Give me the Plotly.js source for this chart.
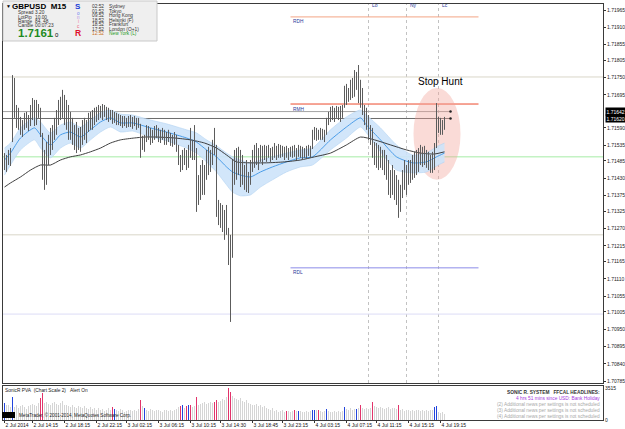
<!DOCTYPE html>
<html><head><meta charset="utf-8">
<script src="https://cdn.plot.ly/plotly-3.0.1.min.js"></script>
<style>html,body{margin:0;padding:0;background:#fff}#chart{width:625px;height:429px}</style>
</head><body><div id="chart"></div>
<script>
// ---------- DATA (GBPUSD M15) ----------
const opens = [1.71488,1.71479,1.71495,1.71485,1.71552,1.71704,1.71641,1.71615,1.71596,1.71584,
1.71603,1.71622,1.71599,1.71615,1.71647,1.71663,1.71615,1.71654,1.71641,1.71568,
1.71437,1.71463,1.71520,1.71552,1.71536,1.71584,1.71599,1.71631,1.71663,1.71641,
1.71679,1.71622,1.71654,1.71584,1.71615,1.71552,1.71584,1.71536,1.71568,1.71552,
1.71599,1.71568,1.71599,1.71622,1.71599,1.71631,1.71622,1.71641,1.71647,1.71631,
1.71654,1.71641,1.71634,1.71628,1.71631,1.71609,1.71634,1.71615,1.71609,1.71625,
1.71606,1.71615,1.71599,1.71622,1.71603,1.71615,1.71606,1.71599,1.71596,1.71545,
1.71526,1.71561,1.71584,1.71568,1.71552,1.71574,1.71584,1.71571,1.71558,1.71577,
1.71561,1.71545,1.71568,1.71558,1.71542,1.71552,1.71561,1.71526,1.71488,1.71463,
1.71514,1.71495,1.71469,1.71520,1.71501,1.71526,1.71520,1.71377,1.71409,1.71456,
1.71393,1.71456,1.71488,1.71472,1.71504,1.71552,1.71520,1.71329,1.71313,1.71297,
1.71272,1.71313,1.71259,1.71177,1.71202,1.71456,1.71440,1.71504,1.71456,1.71488,
1.71431,1.71456,1.71409,1.71431,1.71472,1.71495,1.71520,1.71488,1.71514,1.71495,
1.71520,1.71504,1.71520,1.71507,1.71498,1.71520,1.71510,1.71526,1.71504,1.71520,
1.71514,1.71523,1.71501,1.71517,1.71507,1.71526,1.71504,1.71501,1.71530,1.71507,
1.71514,1.71504,1.71520,1.71510,1.71526,1.71574,1.71584,1.71577,1.71558,1.71577,
1.71561,1.71571,1.71615,1.71625,1.71641,1.71631,1.71647,1.71634,1.71647,1.71628,
1.71657,1.71717,1.71695,1.71711,1.71727,1.71704,1.71720,1.71765,1.71736,1.71704,
1.71647,1.71631,1.71599,1.71577,1.71577,1.71501,1.71520,1.71488,1.71520,1.71479,
1.71504,1.71463,1.71440,1.71393,1.71425,1.71409,1.71393,1.71415,1.71339,1.71393,
1.71440,1.71409,1.71456,1.71431,1.71463,1.71440,1.71488,1.71463,1.71504,1.71488,
1.71514,1.71482,1.71495,1.71472,1.71488,1.71463,1.71536,1.71599,1.71615,1.71584,
1.71599];
const highs = [1.71510,1.71504,1.71520,1.71526,1.71758,1.71749,1.71663,1.71654,1.71625,1.71615,
1.71638,1.71641,1.71631,1.71663,1.71685,1.71679,1.71679,1.71666,1.71654,1.71574,
1.71520,1.71545,1.71568,1.71590,1.71599,1.71622,1.71647,1.71679,1.71689,1.71711,
1.71695,1.71679,1.71663,1.71641,1.71622,1.71599,1.71609,1.71590,1.71593,1.71615,
1.71622,1.71615,1.71638,1.71641,1.71647,1.71654,1.71657,1.71663,1.71660,1.71666,
1.71663,1.71657,1.71654,1.71647,1.71647,1.71641,1.71638,1.71634,1.71631,1.71628,
1.71628,1.71622,1.71628,1.71631,1.71625,1.71628,1.71622,1.71622,1.71603,1.71565,
1.71568,1.71599,1.71596,1.71590,1.71584,1.71596,1.71599,1.71590,1.71584,1.71590,
1.71584,1.71577,1.71584,1.71574,1.71568,1.71577,1.71568,1.71536,1.71504,1.71520,
1.71526,1.71520,1.71536,1.71590,1.71552,1.71599,1.71526,1.71440,1.71472,1.71488,
1.71472,1.71520,1.71530,1.71520,1.71552,1.71590,1.71536,1.71361,1.71351,1.71345,
1.71329,1.71345,1.71272,1.71250,1.71488,1.71520,1.71526,1.71530,1.71520,1.71504,
1.71472,1.71488,1.71450,1.71488,1.71520,1.71536,1.71542,1.71526,1.71536,1.71533,
1.71536,1.71533,1.71536,1.71526,1.71530,1.71542,1.71533,1.71539,1.71536,1.71533,
1.71530,1.71533,1.71526,1.71530,1.71533,1.71536,1.71526,1.71536,1.71533,1.71530,
1.71526,1.71533,1.71536,1.71533,1.71584,1.71593,1.71590,1.71584,1.71590,1.71587,
1.71584,1.71622,1.71641,1.71657,1.71660,1.71654,1.71660,1.71657,1.71660,1.71663,
1.71724,1.71730,1.71717,1.71743,1.71749,1.71774,1.71768,1.71790,1.71743,1.71717,
1.71663,1.71654,1.71631,1.71599,1.71590,1.71545,1.71542,1.71536,1.71530,1.71520,
1.71520,1.71504,1.71488,1.71456,1.71472,1.71456,1.71440,1.71425,1.71409,1.71456,
1.71488,1.71472,1.71488,1.71488,1.71504,1.71514,1.71520,1.71526,1.71536,1.71530,
1.71533,1.71520,1.71514,1.71504,1.71514,1.71542,1.71669,1.71625,1.71622,1.71615,
1.71625];
const lows = [1.71456,1.71450,1.71472,1.71469,1.71545,1.71622,1.71590,1.71584,1.71568,1.71561,
1.71584,1.71590,1.71580,1.71596,1.71615,1.71596,1.71599,1.71622,1.71561,1.71425,
1.71393,1.71409,1.71472,1.71504,1.71520,1.71552,1.71568,1.71599,1.71615,1.71622,
1.71599,1.71584,1.71552,1.71552,1.71536,1.71520,1.71510,1.71520,1.71514,1.71536,
1.71552,1.71542,1.71577,1.71584,1.71584,1.71599,1.71609,1.71615,1.71622,1.71615,
1.71625,1.71615,1.71609,1.71615,1.71603,1.71606,1.71599,1.71599,1.71596,1.71590,
1.71596,1.71590,1.71593,1.71593,1.71587,1.71596,1.71584,1.71590,1.71495,1.71520,
1.71514,1.71545,1.71552,1.71536,1.71542,1.71552,1.71558,1.71545,1.71542,1.71552,
1.71536,1.71536,1.71545,1.71533,1.71530,1.71536,1.71514,1.71472,1.71450,1.71456,
1.71472,1.71456,1.71463,1.71495,1.71488,1.71488,1.71323,1.71345,1.71361,1.71377,
1.71377,1.71425,1.71440,1.71450,1.71472,1.71504,1.71307,1.71281,1.71272,1.71259,
1.71234,1.71250,1.71154,1.70973,1.71177,1.71409,1.71425,1.71440,1.71402,1.71409,
1.71393,1.71386,1.71383,1.71409,1.71450,1.71463,1.71472,1.71456,1.71482,1.71472,
1.71488,1.71482,1.71495,1.71482,1.71488,1.71495,1.71488,1.71495,1.71495,1.71498,
1.71488,1.71495,1.71488,1.71498,1.71495,1.71498,1.71488,1.71498,1.71495,1.71488,
1.71495,1.71491,1.71501,1.71495,1.71523,1.71552,1.71549,1.71552,1.71552,1.71552,
1.71545,1.71568,1.71599,1.71609,1.71615,1.71609,1.71622,1.71615,1.71609,1.71622,
1.71654,1.71663,1.71673,1.71679,1.71685,1.71689,1.71711,1.71669,1.71654,1.71631,
1.71599,1.71584,1.71552,1.71536,1.71495,1.71472,1.71463,1.71456,1.71463,1.71456,
1.71440,1.71425,1.71377,1.71367,1.71377,1.71361,1.71345,1.71304,1.71323,1.71367,
1.71393,1.71377,1.71409,1.71415,1.71425,1.71431,1.71440,1.71450,1.71472,1.71466,
1.71472,1.71463,1.71456,1.71447,1.71447,1.71456,1.71526,1.71574,1.71568,1.71568,
1.71584];
const closes = [1.71479,1.71495,1.71485,1.71536,1.71704,1.71641,1.71615,1.71596,1.71584,1.71603,
1.71622,1.71599,1.71615,1.71647,1.71663,1.71615,1.71654,1.71641,1.71568,1.71437,
1.71463,1.71520,1.71552,1.71536,1.71584,1.71599,1.71631,1.71663,1.71641,1.71679,
1.71622,1.71654,1.71584,1.71615,1.71552,1.71584,1.71536,1.71568,1.71552,1.71599,
1.71568,1.71599,1.71622,1.71599,1.71631,1.71622,1.71641,1.71647,1.71631,1.71654,
1.71641,1.71634,1.71628,1.71622,1.71609,1.71634,1.71615,1.71609,1.71625,1.71606,
1.71615,1.71599,1.71622,1.71603,1.71615,1.71606,1.71599,1.71596,1.71545,1.71533,
1.71561,1.71584,1.71568,1.71552,1.71574,1.71584,1.71571,1.71558,1.71577,1.71561,
1.71545,1.71568,1.71558,1.71542,1.71552,1.71561,1.71526,1.71488,1.71463,1.71514,
1.71488,1.71469,1.71520,1.71501,1.71526,1.71520,1.71377,1.71409,1.71456,1.71393,
1.71456,1.71488,1.71472,1.71504,1.71520,1.71520,1.71329,1.71313,1.71297,1.71272,
1.71313,1.71259,1.71177,1.71202,1.71456,1.71440,1.71504,1.71456,1.71488,1.71431,
1.71456,1.71409,1.71431,1.71472,1.71495,1.71520,1.71488,1.71514,1.71495,1.71520,
1.71504,1.71520,1.71507,1.71498,1.71520,1.71510,1.71526,1.71504,1.71520,1.71514,
1.71504,1.71501,1.71517,1.71507,1.71523,1.71504,1.71501,1.71530,1.71507,1.71514,
1.71504,1.71520,1.71510,1.71526,1.71574,1.71584,1.71568,1.71558,1.71577,1.71561,
1.71571,1.71615,1.71625,1.71641,1.71631,1.71647,1.71634,1.71647,1.71628,1.71657,
1.71717,1.71695,1.71711,1.71727,1.71704,1.71749,1.71765,1.71736,1.71704,1.71647,
1.71631,1.71599,1.71577,1.71568,1.71501,1.71520,1.71488,1.71520,1.71479,1.71504,
1.71463,1.71440,1.71393,1.71425,1.71409,1.71393,1.71418,1.71339,1.71393,1.71440,
1.71409,1.71456,1.71431,1.71463,1.71440,1.71488,1.71463,1.71504,1.71488,1.71514,
1.71482,1.71495,1.71472,1.71488,1.71463,1.71536,1.71599,1.71615,1.71584,1.71599,
1.71619];
// PVA bar class per bar: n = normal, r = red climax, b = blue climax
const barClass = "bnnnbnnnnn"+"nnnnnnnnrr"+"nnnnnnnnnn"+"nnnnnnnnnn"+"nnnnnnnnnn"+
"nnnnrbnnnn"+"nnnnnnnnrn"+"bnnnnnnnnn"+"nnnnnnnnrb"+"nrbrnnrnnn"+
"nnnnnrrnnn"+"nnrrnnnnnn"+"nnnnnnnnnn"+"nnnnnnnnnn"+"nrnnnrnbnn"+
"nnnnbbnrnn"+"nbnnnnnnnn"+"bnnnnnbnrn"+"nnnnrnnnnn"+"nnnnnnnrnn"+
"nnnnnnnnnn"+"nnnnnbbnnn"+"n";
const volumes = [1870,1700,1600,1400,2530,1400,1600,1300,1500,1700,
1400,1200,1500,1600,1800,1700,1500,1900,2400,2970,
1900,2000,1800,1700,1900,2000,1800,1700,1900,2100,
1700,1600,1500,1400,1600,1450,1300,1500,1400,1350,
1550,1300,1250,1400,1200,1350,1150,1300,1100,1250,
1000,1150,1300,1100,1400,1200,1100,1000,1200,1100,
900,1000,1150,1050,950,1100,1000,1200,2200,1500,
1300,1100,1000,1200,1100,950,1050,1100,1000,900,
1050,1150,1000,1100,950,1050,1200,1400,1500,1600,
1300,1500,1650,1650,1400,1500,2530,1700,1800,1900,
2000,1800,1900,2000,1900,1950,2200,2000,2100,2300,
2200,2500,3515,3100,2600,2400,2300,2200,2400,2100,
2000,2200,1900,1800,1700,1600,1800,1500,1600,1400,
1500,1300,1200,1100,1300,1000,1150,900,1000,1100,
850,1000,1000,900,950,1100,1000,1000,950,900,
850,1000,900,1000,1100,1100,1050,1100,1000,900,
1000,1200,950,900,850,1000,900,950,850,1000,
1430,1200,1100,1300,1150,1250,1250,1300,1650,1300,
1200,1350,1250,1300,1980,1500,1400,1300,1450,1350,
1200,1300,1400,1250,1350,1300,1200,1650,1100,1200,
1000,1100,1050,950,1100,1000,1150,1050,1000,1100,
950,1050,1000,1100,1050,1430,1500,900,800,850,
700];
// Dragon band (EMA of high / close / low) read at sample bars
const dragonBars = [0,3,8,15,18,23,28,33,38,43,48,53,58,64,73,81,91,96,101,106,111,114,118,123,128,134,141,148,154,163,171,178,181,188,196,204,211,216,220];
const dragonMid  = [1.71488,1.71510,1.71558,1.71590,1.71568,1.71536,1.71568,1.71577,1.71561,1.71584,1.71609,1.71622,1.71606,1.71606,1.71590,1.71577,1.71558,1.71545,1.71520,1.71498,1.71466,1.71450,1.71440,1.71434,1.71450,1.71466,1.71482,1.71495,1.71498,1.71552,1.71593,1.71622,1.71599,1.71552,1.71498,1.71479,1.71482,1.71498,1.71510];
const dragonHigh = [1.71526,1.71542,1.71590,1.71622,1.71609,1.71574,1.71599,1.71609,1.71593,1.71615,1.71638,1.71647,1.71634,1.71631,1.71615,1.71603,1.71584,1.71574,1.71552,1.71533,1.71510,1.71498,1.71488,1.71479,1.71488,1.71498,1.71510,1.71520,1.71526,1.71584,1.71625,1.71647,1.71631,1.71590,1.71536,1.71504,1.71510,1.71530,1.71542];
const dragonLow  = [1.71440,1.71472,1.71520,1.71552,1.71526,1.71495,1.71526,1.71542,1.71526,1.71552,1.71577,1.71593,1.71577,1.71580,1.71561,1.71549,1.71526,1.71510,1.71482,1.71450,1.71409,1.71386,1.71374,1.71377,1.71402,1.71425,1.71450,1.71466,1.71472,1.71520,1.71558,1.71593,1.71574,1.71514,1.71456,1.71447,1.71450,1.71469,1.71482];
// Trend line (slow EMA) read at sample bars
const trendBars = [0,3,8,13,18,23,28,33,38,43,48,53,58,65,70,76,85,93,100,106,111,116,123,131,140,148,155,163,171,178,185,193,201,208,215,220];
const trendVals = [1.71402,1.71415,1.71434,1.71456,1.71472,1.71472,1.71488,1.71498,1.71504,1.71514,1.71526,1.71542,1.71552,1.71558,1.71561,1.71561,1.71558,1.71552,1.71542,1.71526,1.71504,1.71482,1.71479,1.71479,1.71482,1.71488,1.71498,1.71510,1.71536,1.71561,1.71552,1.71536,1.71520,1.71510,1.71507,1.71514];
// time axis labels
const timeTickBars = [0,14,30,46,61,77,93,108,124,139,155,171,186,202,218];
const timeTickText = ["2 Jul 2014","2 Jul 14:15","2 Jul 18:15","2 Jul 22:15","3 Jul 02:15","3 Jul 06:15","3 Jul 10:15","3 Jul 14:30","3 Jul 18:45","3 Jul 23:15","4 Jul 03:15","4 Jul 07:15","4 Jul 11:15","4 Jul 15:15","4 Jul 19:15"];
// price axis labels
const priceTicks = [1.71965,1.71910,1.71855,1.71805,1.71750,1.71695,1.71590,1.71535,1.71485,1.71430,1.71375,1.71325,1.71270,1.71215,1.71165,1.71110,1.71055,1.71005,1.70950,1.70895,1.70840,1.70785];
// horizontal levels
const fullLevels = [1.71752,1.71498,1.71250,1.70998];
const fullLevelColors = ["#d9d6c8","#a6eca6","#d9d6c8","#dcdcf6"];
const rangeLevelNames = ["RDH","RMH","RDL"];
const rangeLevelVals = [1.71943,1.71666,1.71145];
const rangeLevelColors = ["#f3a585","#ec4a2c","#8c8ce8"];
const bidAskVals = [1.71642,1.71620];
const sessionNames = ["Lo","Ny","Lc"];
const sessionBars = [182,201,217];
const volMax = 3515;

// ---------- helpers ----------
const W = 625, H = 429;
const px = x => x / W, py = y => 1 - y / H;
const N = closes.length;
const idx = Array.from({length:N}, (_, i) => i);

const wickX = [], wickY = [];
for (let i = 0; i < N; i++) { wickX.push(i, i, null); wickY.push(lows[i], highs[i], null); }
const bodyBase = [], bodyLen = [], bodyCol = [], volCol = [];
for (let i = 0; i < N; i++) {
  const lo = Math.min(opens[i], closes[i]);
  const len = Math.max(Math.abs(closes[i] - opens[i]), 0.00002);
  bodyBase.push(lo); bodyLen.push(len);
  const k = barClass[i];
  if (k === 'r') { bodyCol.push('#e0164e'); volCol.push('#e2336a'); }
  else if (k === 'b') { bodyCol.push('#1a3cd6'); volCol.push('#2244dd'); }
  else { bodyCol.push(closes[i] >= opens[i] ? '#c6c6c6' : '#8a8a8a'); volCol.push('#d5d5d5'); }
}

const traces = [
  {type:'scatter', mode:'lines', x:dragonBars, y:dragonHigh, line:{color:'#b4d4f2', width:0.6, shape:'spline', smoothing:0.6}, xaxis:'x', yaxis:'y', hoverinfo:'skip'},
  {type:'scatter', mode:'lines', x:dragonBars, y:dragonLow, line:{color:'#b4d4f2', width:0.6, shape:'spline', smoothing:0.6}, fill:'tonexty', fillcolor:'rgba(205,227,250,0.9)', xaxis:'x', yaxis:'y', hoverinfo:'skip'},
  {type:'scatter', mode:'lines', x:dragonBars, y:dragonMid, line:{color:'#3d95e6', width:0.9, shape:'spline', smoothing:0.6}, xaxis:'x', yaxis:'y', hoverinfo:'skip'},
  {type:'scatter', mode:'lines', x:trendBars, y:trendVals, line:{color:'#2a2a2a', width:0.9, shape:'spline', smoothing:0.6}, xaxis:'x', yaxis:'y', hoverinfo:'skip'},
  {type:'scatter', mode:'lines', x:wickX, y:wickY, line:{color:'#5c5c5c', width:1}, xaxis:'x', yaxis:'y', hoverinfo:'skip', connectgaps:false},
  {type:'bar', x:idx, base:bodyBase, y:bodyLen, width:0.5, marker:{color:bodyCol, line:{width:0}}, xaxis:'x', yaxis:'y', hoverinfo:'skip'},
  {type:'scatter', mode:'markers', x:[223,223], y:bidAskVals, marker:{color:'#222', size:2.5}, xaxis:'x', yaxis:'y', hoverinfo:'skip'},
  {type:'bar', x:idx, y:volumes, width:0.65, marker:{color:volCol, line:{width:0}}, xaxis:'x2', yaxis:'y2', hoverinfo:'skip'}
];

const shapes = [];
// info panel background
shapes.push({type:'rect', xref:'paper', yref:'paper', x0:px(3), x1:px(157), y0:py(41), y1:py(1), fillcolor:'#efefef', line:{color:'#c9c9c9', width:1}, layer:'above'});
// full-width levels
fullLevels.forEach((v, i) => shapes.push({type:'line', xref:'x', yref:'y', x0:-0.75, x1:299.25, y0:v, y1:v, line:{color:fullLevelColors[i], width:1}, layer:'below'}));
// bid / ask lines
shapes.push({type:'line', xref:'x', yref:'y', x0:-0.75, x1:223, y0:bidAskVals[0], y1:bidAskVals[0], line:{color:'#a4a4a4', width:1}, layer:'below'});
shapes.push({type:'line', xref:'x', yref:'y', x0:-0.75, x1:223, y0:bidAskVals[1], y1:bidAskVals[1], line:{color:'#6c6c6c', width:1}, layer:'below'});
// session lines
sessionBars.forEach(b => shapes.push({type:'line', xref:'x', yref:'paper', x0:b, x1:b, y0:py(383), y1:py(4), line:{color:'#c2c2c2', width:1, dash:'dot'}, layer:'below'}));
// range levels
rangeLevelVals.forEach((v, i) => shapes.push({type:'line', xref:'x', yref:'y', x0:143, x1:237, y0:v, y1:v, line:{color:rangeLevelColors[i], width:1}, layer:'below'}));
// stop hunt ellipse
shapes.push({type:'circle', xref:'x', yref:'y', x0:204.5, x1:228, y0:1.71425, y1:1.71717, fillcolor:'rgba(242,160,150,0.38)', line:{width:0}, layer:'below'});
// copyright black box
shapes.push({type:'rect', xref:'paper', yref:'paper', x0:px(2), x1:px(15), y0:py(418), y1:py(412), fillcolor:'#000', line:{width:0}, layer:'above'});

const F = 'Liberation Sans, Arial, sans-serif';
const ann = [];
function t(x, y, text, size, color, opt) {
  ann.push(Object.assign({xref:'paper', yref:'paper', x:px(x), y:py(y), text:text, showarrow:false, xanchor:'left', yanchor:'middle', font:{family:F, size:size, color:color}}, opt || {}));
}
// info panel
t(4, 6.5, '\u25BC', 5, '#000');
t(10, 6.5, '<b>GBPUSD&nbsp;&nbsp;M15</b>', 8, '#000');
const infoLab = ['Spread','LotPip','Range','Candle'];
const infoVal = ['3.20','10.00','84, 48','00:07:23'];
infoLab.forEach((s, i) => { t(16, 13 + 4.2*i, s, 4.8, '#333'); t(33, 13 + 4.2*i, infoVal[i], 4.8, '#333'); });
t(16, 33.5, '<b>1.7161</b>', 11.5, '#1e8a1e');
t(53, 35, '0', 6, '#000');
t(78, 6.5, '<b>S</b>', 8, '#1a3cd6', {xanchor:'center'});
const sonicL = ['o','n','i','c'], sonicC = ['#6b7cf0','#b48fe6','#f07ca0','#ec5c84'];
sonicL.forEach((s, i) => t(78, 13.5 + 4.2*i, s, 4.6, sonicC[i], {xanchor:'center'}));
t(78, 33.5, '<b>R</b>', 8.5, '#e0102c', {xanchor:'center'});
const clockT = ['02:52','01:52','09:52','18:52','18:52','17:52','12:52'];
const clockC = ['Sydney','Tokyo','Hong Kong','Helsinki (F)','Frankfurt','London (O+1)','New York (L)'];
clockT.forEach((s, i) => {
  const last = i === clockT.length - 1;
  t(90, 6.5 + 4.55*i, s, 4.8, last ? '#c8701e' : '#333');
  t(107, 6.5 + 4.55*i, clockC[i], 4.8, last ? '#1e9a1e' : '#333');
});
// level labels
rangeLevelNames.forEach((s, i) => ann.push({xref:'x', yref:'y', x:143, y:rangeLevelVals[i], text:s, showarrow:false, xanchor:'left', yanchor:'top', yshift:-0.5, font:{family:F, size:4.8, color:'#2a3a9a'}}));
sessionNames.forEach((s, i) => ann.push({xref:'x', yref:'paper', x:sessionBars[i], y:py(5.5), text:s, showarrow:false, xanchor:'left', yanchor:'middle', xshift:1, font:{family:F, size:5, color:'#2a3a9a'}}));
// stop hunt
ann.push({xref:'paper', yref:'paper', x:px(416), y:py(82), text:'Stop Hunt', showarrow:false, xanchor:'left', yanchor:'middle', font:{family:F, size:10, color:'#000'}});
// bid/ask price boxes
bidAskVals.forEach(v => ann.push({xref:'paper', yref:'y', x:px(605), y:v, text:v.toFixed(5), showarrow:false, xanchor:'left', yanchor:'middle', bgcolor:'#000', borderpad:0.5, font:{family:F, size:5, color:'#fff'}}));
// volume window texts
t(3, 390, 'SonicR PVA&nbsp;&nbsp;(Chart Scale 2)&nbsp;&nbsp;&nbsp;Alert On', 4.8, '#222');
t(17, 415, 'MetaTrader, \u00A9 2001-2014, MetaQuotes Software Corp.', 4.6, '#222');
const news = [['<b>SONIC R. SYSTEM&nbsp;&nbsp;&nbsp;FFCAL HEADLINES:</b>','#333'],['4 hrs 51 mins since USD: Bank Holiday','#a43ae0'],['(2) Additional news per settings is not scheduled','#a8a8a8'],['(3) Additional news per settings is not scheduled','#a8a8a8'],['(4) Additional news per settings is not scheduled','#a8a8a8']];
news.forEach((n, i) => t(602, 392.5 + 6*i, n[0], 4.8, n[1], {xanchor:'right'}));

const layout = {
  width:W, height:H, margin:{l:0, r:0, t:0, b:0}, paper_bgcolor:'#fff', plot_bgcolor:'#fff',
  showlegend:false, barmode:'overlay', bargap:0, hovermode:false,
  xaxis:{domain:[px(3), px(603)], range:[-0.75, 299.25], anchor:'y', showticklabels:false, ticks:'', showgrid:false, zeroline:false, showline:true, mirror:true, linecolor:'#3a3a3a', linewidth:1},
  yaxis:{domain:[py(383), py(4)], range:[1.707788, 1.719841], side:'right', anchor:'x', tickvals:priceTicks, ticktext:priceTicks.map(v => v.toFixed(5)), ticks:'outside', ticklen:2, tickcolor:'#333', tickfont:{family:F, size:5, color:'#222'}, showgrid:false, zeroline:false, showline:true, mirror:true, linecolor:'#3a3a3a', linewidth:1},
  xaxis2:{domain:[px(3), px(603)], range:[-0.75, 299.25], anchor:'y2', matches:'x', tickmode:'array', tickvals:timeTickBars, ticktext:timeTickText, tickangle:0, ticklabelposition:'outside right', ticklabelstandoff:0, ticks:'outside', ticklen:2, tickcolor:'#333', tickfont:{family:F, size:5, color:'#111'}, showgrid:false, zeroline:false, showline:true, mirror:true, linecolor:'#3a3a3a', linewidth:1, automargin:false},
  yaxis2:{domain:[py(420), py(386)], range:[0, volMax*34/32], side:'right', anchor:'x2', tickvals:[0, volMax], ticktext:['0', String(volMax)], ticks:'', tickfont:{family:F, size:5, color:'#222'}, showgrid:false, zeroline:false, showline:true, mirror:true, linecolor:'#3a3a3a', linewidth:1},
  shapes:shapes, annotations:ann
};
Plotly.newPlot('chart', traces, layout, {staticPlot:true, displayModeBar:false});
</script></body></html>
